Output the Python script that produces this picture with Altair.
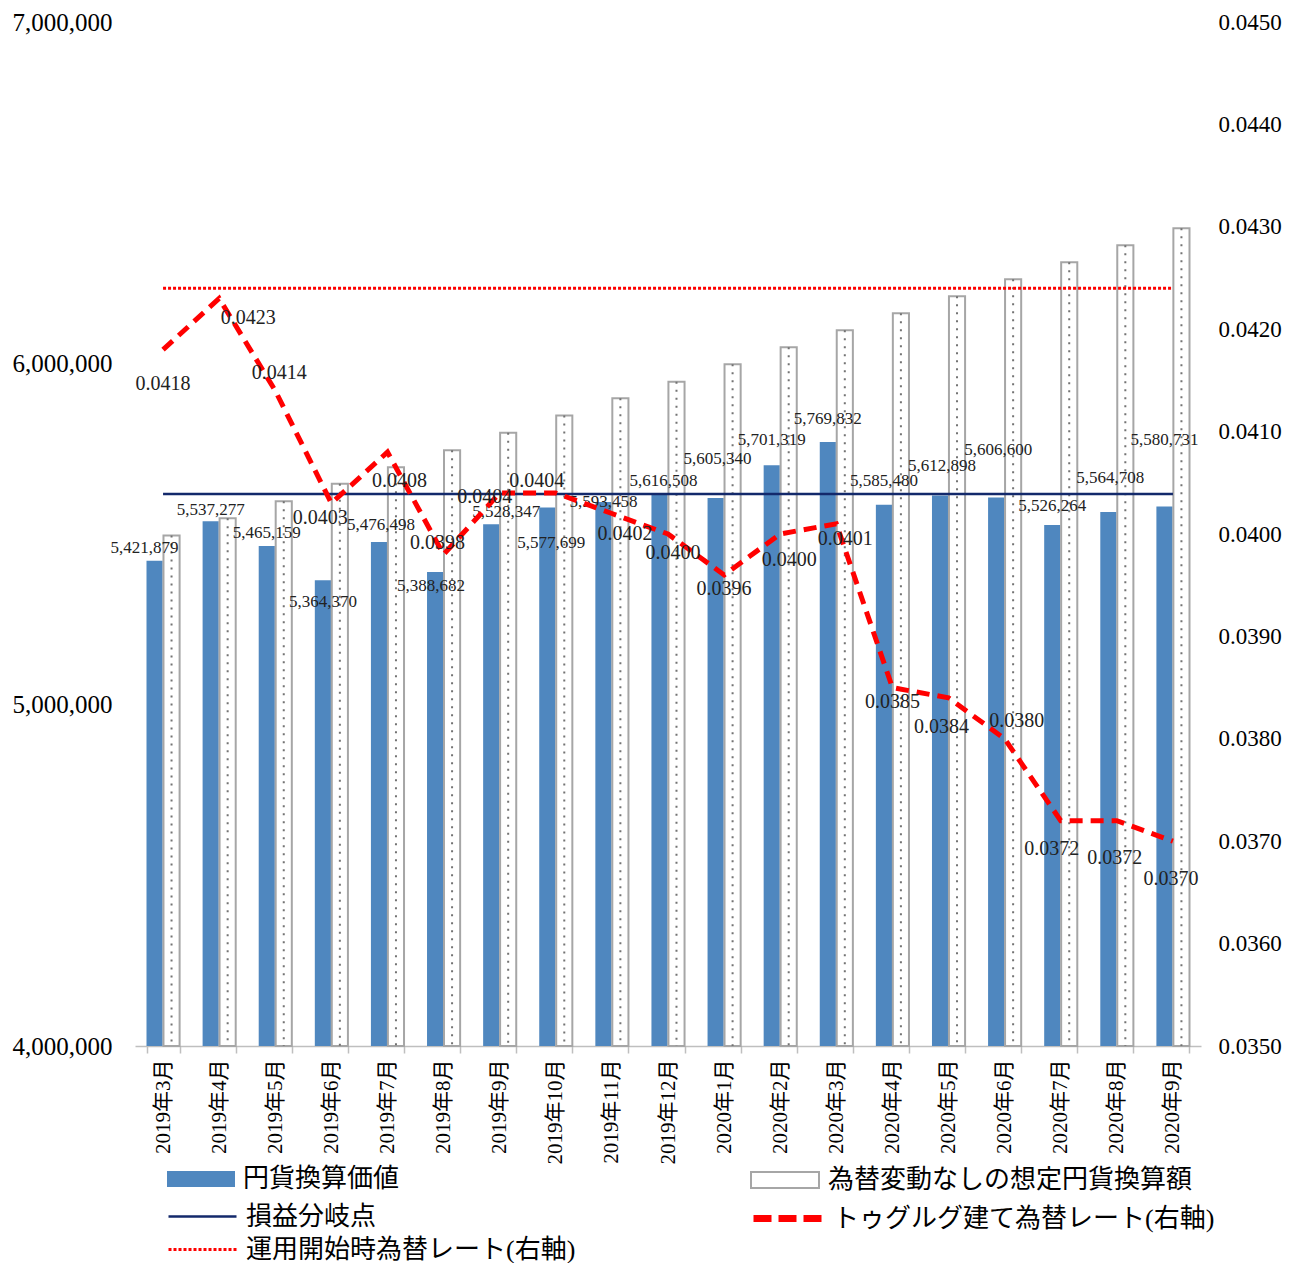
import altair as alt
import pandas as pd

months = ["2019年3月", "2019年4月", "2019年5月", "2019年6月", "2019年7月", "2019年8月",
          "2019年9月", "2019年10月", "2019年11月", "2019年12月", "2020年1月", "2020年2月",
          "2020年3月", "2020年4月", "2020年5月", "2020年6月", "2020年7月", "2020年8月", "2020年9月"]
yen_value = [5421879, 5537277, 5465159, 5364370, 5476498, 5388682, 5528347, 5577699, 5593458,
             5616508, 5605340, 5701319, 5769832, 5585480, 5612898, 5606600, 5526264, 5564708, 5580731]
no_fx_value = [5495600, 5546300, 5596200, 5647200, 5695900, 5745700, 5796800, 5847500, 5897400,
               5946300, 5997100, 6046900, 6096800, 6146600, 6196500, 6246300, 6296200, 6346000, 6395900]
tugrik_rate = [0.0418, 0.0423, 0.0414, 0.0403, 0.0408, 0.0398, 0.0404, 0.0404, 0.0402, 0.0400,
               0.0396, 0.0400, 0.0401, 0.0385, 0.0384, 0.0380, 0.0372, 0.0372, 0.0370]
breakeven_value = 5617000
start_rate_value = 0.0424

left_ticks = [4000000, 5000000, 6000000, 7000000]
right_ticks = [0.035, 0.036, 0.037, 0.038, 0.039, 0.040, 0.041, 0.042, 0.043, 0.044, 0.045]

# label nudges (px) of the data labels, as placed by hand in the original chart
bar_label_dx = [-10, 0, 0, 0, 2, -4, 15, 4, 0, 4, 2, 0, 0, 0, 2, 2, 0, 2, 0]
bar_label_dy = [-13, -11, -13, 22, -17, 14, -12, 36, 0, -13, -39, -25, -23, -24, -29, -48, -19, -34, -66]
rate_label_dx = [0, 29, 4, -11, 12, -6, -15, -19, 13, 5, 0, 9, 9, 0, -7, 12, -9, -2, -2]
rate_label_dy = [34, 20, -18, 15, 29, -11, 4, -12, 20, 19, 14, 26, 15, 14, 29, -18, 28, 37, 38]

S_YEN = "円貨換算価値"
S_NOFX = "為替変動なしの想定円貨換算額"
S_BE = "損益分岐点"
S_RATE = "トゥグルグ建て為替レート(右軸)"
S_START = "運用開始時為替レート(右軸)"

FONT = "Liberation Serif, Noto Sans CJK JP"
BLUE = "#4F87BF"
NAVY = "#13296B"
RED = "#FF0000"
GRAY = "#A6A6A6"

df_yen = pd.DataFrame({"month": months, "value": yen_value, "series": S_YEN,
                       "ndx": bar_label_dx, "ndy": bar_label_dy})
df_nofx = pd.DataFrame({"month": months, "value": no_fx_value, "series": S_NOFX})
df_be = pd.DataFrame({"month": months, "value": [breakeven_value] * len(months), "series": S_BE})
df_rate = pd.DataFrame({"month": months, "value": tugrik_rate, "series": S_RATE,
                        "ndx": rate_label_dx, "ndy": rate_label_dy})
df_start = pd.DataFrame({"month": months, "value": [start_rate_value] * len(months), "series": S_START})

x = alt.X("month:N", sort=months,
          scale=alt.Scale(paddingInner=0.41, paddingOuter=0.205),
          axis=alt.Axis(title=None, labelAngle=270, tickBand="extent", tickSize=7,
                        domainColor="#BFBFBF", tickColor="#BFBFBF", domainWidth=1.5, tickWidth=1.5,
                        labelFont=FONT, labelFontSize=21, labelColor="black", labelPadding=6,
                        grid=False))
xoff = alt.XOffset("series:N", scale=alt.Scale(domain=[S_YEN, S_NOFX], paddingInner=0.05))

yl_scale = alt.Scale(domain=[4000000, 7000000], zero=False, nice=False)
yr_scale = alt.Scale(domain=[0.035, 0.045], zero=False, nice=False)
left_axis = alt.Axis(orient="left", values=left_ticks, format=",.0f", title=None, domain=False,
                     ticks=False, grid=False, labelFont=FONT, labelFontSize=25, labelColor="black",
                     labelPadding=23)
right_axis = alt.Axis(orient="right", values=right_ticks, format=".4f", title=None, domain=False,
                      ticks=False, grid=False, labelFont=FONT, labelFontSize=23, labelColor="black",
                      labelPadding=17)


def yl(field="value:Q"):
    return alt.Y(field, scale=yl_scale, axis=left_axis)


def yr(field="value:Q"):
    return alt.Y(field, scale=yr_scale, axis=right_axis)


RECT_PATH = "M-1,-0.235H1V0.235H-1Z"
ROW_Y = [1123, 1159, 1192]
COL_X = [32, 615]


def legend(xpos, ypos, **kw):
    return alt.Legend(orient="none", legendX=xpos, legendY=ypos, title=None, padding=0,
                      labelFont=FONT, labelFontSize=26, labelColor="black", labelOffset=8,
                      symbolSize=4624, labelLimit=600, **kw)


bars_yen = alt.Chart(df_yen).mark_bar().encode(
    x=x, xOffset=xoff, y=yl(), y2=alt.datum(4000000),
    fill=alt.Fill("series:N", scale=alt.Scale(domain=[S_YEN], range=[BLUE]),
                  legend=legend(COL_X[0], ROW_Y[0], symbolType=RECT_PATH, symbolStrokeWidth=0)),
)

bars_nofx = alt.Chart(df_nofx).mark_bar(stroke=GRAY, strokeWidth=2).encode(
    x=x, xOffset=xoff, y=yl(), y2=alt.datum(4000000),
    fill=alt.Fill("series:N", scale=alt.Scale(domain=[S_NOFX], range=["#FFFFFF"]),
                  legend=legend(COL_X[1], ROW_Y[0], symbolType=RECT_PATH,
                                symbolStrokeColor=GRAY, symbolStrokeWidth=2)),
)

dots = alt.Chart(df_nofx).mark_rule(color="#737373", strokeWidth=2, strokeDash=[2, 6]).encode(
    x=x, xOffset=xoff, y=yl(), y2=alt.datum(4000000),
)

be_line = alt.Chart(df_be).mark_line(strokeWidth=2.5).encode(
    x=x, y=yl(),
    stroke=alt.Stroke("series:N", scale=alt.Scale(domain=[S_BE], range=[NAVY]),
                      legend=legend(COL_X[0], ROW_Y[1], symbolType="stroke", symbolStrokeWidth=2.5)),
)

bar_labels = alt.Chart(df_yen).mark_text(
    font=FONT, fontSize=17, color="#222222",
    dx=alt.ExprRef(expr="datum.ndx"), dy=alt.ExprRef(expr="datum.ndy"),
).encode(
    x=x, xOffset=xoff, y=yl(),
    text=alt.Text("value:Q", format=",.0f"),
)

rate_line = alt.Chart(df_rate).mark_line(strokeWidth=5, strokeDash=[13, 8]).encode(
    x=x, y=yr(),
    stroke=alt.Stroke("series:N", scale=alt.Scale(domain=[S_RATE], range=[RED]),
                      legend=legend(COL_X[1], ROW_Y[1], symbolType="stroke", symbolStrokeWidth=7,
                                    symbolDash=[18, 7])),
)

start_line = alt.Chart(df_start).mark_line(strokeWidth=3, strokeDash=[3, 2]).encode(
    x=x, y=yr(),
    stroke=alt.Stroke("series:N", scale=alt.Scale(domain=[S_START], range=[RED]),
                      legend=legend(COL_X[0], ROW_Y[2], symbolType="stroke", symbolStrokeWidth=3,
                                    symbolDash=[3, 2])),
)

rate_labels = alt.Chart(df_rate).mark_text(
    font=FONT, fontSize=20, color="#222222",
    dx=alt.ExprRef(expr="datum.ndx"), dy=alt.ExprRef(expr="datum.ndy"),
).encode(
    x=x, y=yr(),
    text=alt.Text("value:Q", format=".4f"),
)

left = alt.layer(bars_yen, bars_nofx, dots, be_line, bar_labels).resolve_scale(
    fill="independent", stroke="independent")
right = alt.layer(rate_line, start_line, rate_labels).resolve_scale(stroke="independent")

chart = alt.layer(left, right).resolve_scale(
    y="independent", fill="independent", stroke="independent"
).properties(
    width=1066, height=1024, background="white",
    padding={"left": 4, "top": 2, "right": 0, "bottom": 0},
).configure_view(stroke=None)

chart.save("out.html", embed_options={"renderer": "svg", "actions": False})
